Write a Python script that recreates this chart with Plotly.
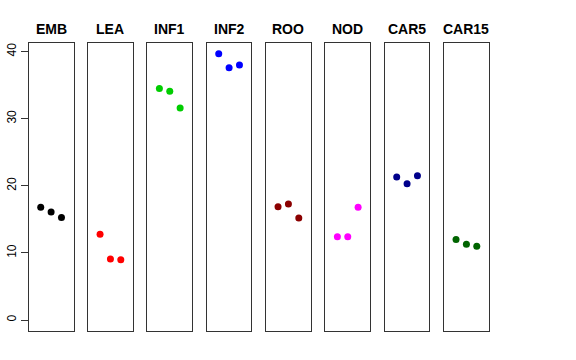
import plotly.graph_objects as go

tissues = ["EMB", "LEA", "INF1", "INF2", "ROO", "NOD", "CAR5", "CAR15"]
colors = ["#000000", "#FF0000", "#00CD00", "#0000FF", "#8B0000", "#FF00FF", "#00008B", "#006400"]
x_pos = [1, 2, 3]
emb = [16.8, 16.1, 15.3]
lea = [12.8, 9.1, 9.0]
inf1 = [34.5, 34.1, 31.6]
inf2 = [39.7, 37.6, 38.0]
roo = [16.9, 17.3, 15.2]
nod = [12.4, 12.4, 16.8]
car5 = [21.3, 20.3, 21.5]
car15 = [12.0, 11.3, 11.0]
values = [emb, lea, inf1, inf2, roo, nod, car5, car15]
y_ticks = [0, 10, 20, 30, 40]

W, H = 576, 360
ymax = max(max(v) for v in values)
yr = [0 - 0.04 * ymax, ymax * 1.04]
xr = [0 - 0.04 * 4, 4 * 1.04]

fig = go.Figure()
left0 = 28.7
step = 59.33
pw = 44.8
ydom = [(H - 330.7) / H, (H - 43) / H]
for i, (name, col, vals) in enumerate(zip(tissues, colors, values)):
    suf = "" if i == 0 else str(i + 1)
    fig.add_trace(go.Scatter(x=x_pos, y=vals, mode="markers",
                             marker=dict(color=col, size=7, line=dict(width=0)),
                             xaxis="x" + suf, yaxis="y" + suf, showlegend=False,
                             hoverinfo="skip"))
    l = left0 + i * step
    fig.layout["xaxis" + suf] = dict(domain=[l / W, (l + pw) / W], range=xr,
                                     showline=True, mirror=True, linecolor="#333333",
                                     linewidth=1, showgrid=False, zeroline=False,
                                     showticklabels=False, ticks="", fixedrange=True,
                                     anchor="y" + suf, automargin=False)
    ya = dict(domain=ydom, range=yr, showline=True, mirror=True, linecolor="#333333",
              linewidth=1, showgrid=False, zeroline=False, anchor="x" + suf,
              fixedrange=True, automargin=False)
    if i == 0:
        ya.update(tickvals=y_ticks, ticks="outside", ticklen=7, tickcolor="#333333",
                  tickangle=-90, showticklabels=True,
                  tickfont=dict(family="Liberation Sans, Arial", size=12, color="#000000"))
    else:
        ya.update(showticklabels=False, ticks="")
    fig.layout["yaxis" + suf] = ya
    fig.add_annotation(text="<b>" + name + "</b>", x=(l + pw / 2) / W, y=(H - 29) / H,
                       xref="paper", yref="paper", showarrow=False,
                       xanchor="center", yanchor="middle",
                       font=dict(family="Liberation Sans, Arial", size=14, color="#000000"))

fig.update_layout(width=W, height=H, margin=dict(l=0, r=0, t=0, b=0),
                  paper_bgcolor="white", plot_bgcolor="white")
fig.write_html("out.html", config={"displayModeBar": False},
               post_script="document.body.style.margin='0';document.body.style.overflow='hidden';")
